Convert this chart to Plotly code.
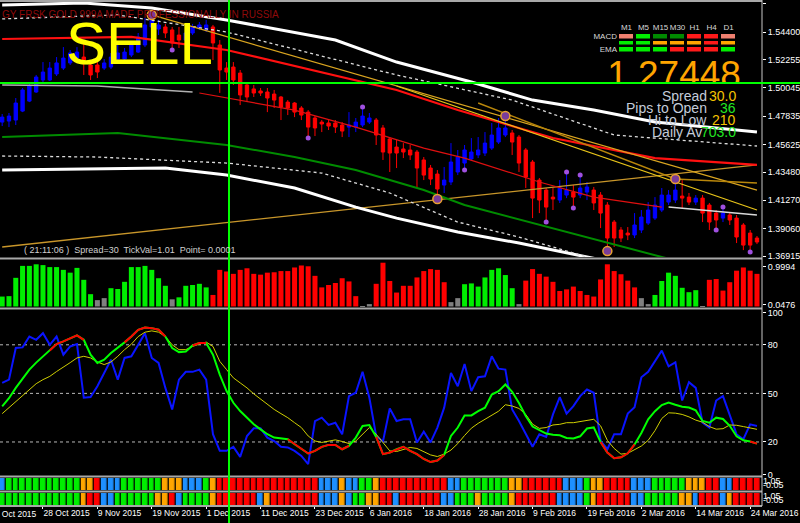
import plotly.graph_objects as go

# one bar per trading day, bar 0 = 20 Oct 2015
date_tick_idx = [6, 14, 22, 30, 38, 46, 54, 62, 70, 78, 86, 94, 102, 110]
date_tick_text = ["28 Oct 2015", "9 Nov 2015", "19 Nov 2015", "1 Dec 2015", "11 Dec 2015",
                  "23 Dec 2015", "6 Jan 2016", "18 Jan 2016", "28 Jan 2016", "9 Feb 2016",
                  "19 Feb 2016", "2 Mar 2016", "14 Mar 2016", "24 Mar 2016"]
first_date_label = "16 Oct 2015"   # half hidden at the left edge

price_ticks = [1.36915, 1.39060, 1.41270, 1.43480, 1.45625, 1.47835, 1.50045, 1.52255, 1.54400, 1.56610]

open_ = [1.4738, 1.4746, 1.4754, 1.4824, 1.4902, 1.4973, 1.5067, 1.5067, 1.5114, 1.5160,
         1.5200, 1.5238, 1.5246, 1.5184, 1.5184, 1.5160, 1.5168, 1.5231, 1.5231, 1.5262,
         1.5285, 1.5340, 1.5481, 1.5465, 1.5481, 1.5458, 1.5418, 1.5379, 1.5434, 1.5473,
         1.5458, 1.5481, 1.5340, 1.5160, 1.5168, 1.5121, 1.5028, 1.4997, 1.4981, 1.4973,
         1.4957, 1.4934, 1.4894, 1.4887, 1.4848, 1.4816, 1.4770, 1.4738, 1.4731, 1.4731,
         1.4715, 1.4699, 1.4699, 1.4715, 1.4738, 1.4754, 1.4692, 1.4606, 1.4543, 1.4528,
         1.4520, 1.4504, 1.4442, 1.4379, 1.4332, 1.4246, 1.4270, 1.4348, 1.4418, 1.4450,
         1.4481, 1.4496, 1.4535, 1.4582, 1.4637, 1.4653, 1.4621, 1.4520, 1.4426, 1.4285,
         1.4207, 1.4152, 1.4129, 1.4168, 1.4191, 1.4168, 1.4191, 1.4207, 1.4168, 1.4090,
         1.3957, 1.3895, 1.3871, 1.3856, 1.3895, 1.3949, 1.3988, 1.4051, 1.4113, 1.4129,
         1.4160, 1.4152, 1.4113, 1.4144, 1.4090, 1.4027, 1.3988, 1.4012, 1.3988, 1.3934,
         1.3871, 1.3832]
high = [1.4801, 1.4809, 1.4926, 1.5004, 1.5036, 1.5106, 1.5207, 1.5207, 1.5246, 1.5324,
        1.5301, 1.5324, 1.5356, 1.5223, 1.5238, 1.5231, 1.5278, 1.5356, 1.5317, 1.5363,
        1.5434, 1.5551, 1.5575, 1.5536, 1.5505, 1.5481, 1.5481, 1.5458, 1.5505, 1.5520,
        1.5536, 1.5497, 1.5379, 1.5207, 1.5207, 1.5145, 1.5051, 1.5028, 1.5004, 1.5004,
        1.4989, 1.4942, 1.4910, 1.4894, 1.4863, 1.4832, 1.4785, 1.4754, 1.4762, 1.4754,
        1.4738, 1.4816, 1.4770, 1.4855, 1.4809, 1.4770, 1.4715, 1.4621, 1.4598, 1.4574,
        1.4559, 1.4520, 1.4465, 1.4403, 1.4363, 1.4387, 1.4574, 1.4520, 1.4559, 1.4613,
        1.4621, 1.4660, 1.4731, 1.4770, 1.4785, 1.4676, 1.4637, 1.4535, 1.4442, 1.4301,
        1.4223, 1.4223, 1.4285, 1.4348, 1.4246, 1.4324, 1.4270, 1.4231, 1.4191, 1.4113,
        1.3973, 1.3918, 1.3918, 1.4027, 1.4051, 1.4113, 1.4152, 1.4223, 1.4207, 1.4293,
        1.4285, 1.4184, 1.4168, 1.4168, 1.4106, 1.4051, 1.4074, 1.4035, 1.4012, 1.3949,
        1.3895, 1.3848]
low = [1.4707, 1.4699, 1.4715, 1.4816, 1.4894, 1.4966, 1.5051, 1.5059, 1.5098, 1.5145,
       1.5184, 1.5223, 1.5106, 1.5067, 1.5082, 1.5145, 1.5153, 1.5215, 1.5215, 1.5246,
       1.5278, 1.5324, 1.5465, 1.5418, 1.5395, 1.5301, 1.5317, 1.5364, 1.5418, 1.5458,
       1.5442, 1.5223, 1.4966, 1.5067, 1.5028, 1.4871, 1.4894, 1.4934, 1.4942, 1.4816,
       1.4848, 1.4754, 1.4793, 1.4777, 1.4754, 1.4613, 1.4629, 1.4660, 1.4676, 1.4653,
       1.4621, 1.4621, 1.4660, 1.4699, 1.4723, 1.4559, 1.4442, 1.4348, 1.4379, 1.4457,
       1.4442, 1.4223, 1.4285, 1.4246, 1.4137, 1.4184, 1.4246, 1.4324, 1.4363, 1.4434,
       1.4457, 1.4473, 1.4520, 1.4567, 1.4621, 1.4481, 1.4348, 1.4223, 1.3988, 1.4027,
       1.3957, 1.4051, 1.4106, 1.4144, 1.4066, 1.4144, 1.4129, 1.4051, 1.3910, 1.3730,
       1.3762, 1.3801, 1.3816, 1.3832, 1.3871, 1.3934, 1.3973, 1.4035, 1.4090, 1.4106,
       1.4066, 1.4090, 1.4090, 1.3957, 1.3895, 1.3895, 1.3957, 1.3934, 1.3793, 1.3738,
       1.3723, 1.3785]
close = [1.4777, 1.4785, 1.4887, 1.4989, 1.5020, 1.5090, 1.5129, 1.5160, 1.5200, 1.5238,
         1.5278, 1.5285, 1.5223, 1.5106, 1.5129, 1.5200, 1.5246, 1.5278, 1.5285, 1.5340,
         1.5403, 1.5497, 1.5536, 1.5497, 1.5434, 1.5356, 1.5379, 1.5434, 1.5481, 1.5497,
         1.5497, 1.5356, 1.5145, 1.5129, 1.5067, 1.4950, 1.4934, 1.4965, 1.4965, 1.4926,
         1.4910, 1.4855, 1.4848, 1.4816, 1.4793, 1.4699, 1.4692, 1.4723, 1.4707, 1.4699,
         1.4668, 1.4715, 1.4738, 1.4785, 1.4770, 1.4637, 1.4504, 1.4496, 1.4496, 1.4504,
         1.4481, 1.4379, 1.4324, 1.4293, 1.4215, 1.4285, 1.4426, 1.4465, 1.4520, 1.4504,
         1.4520, 1.4574, 1.4637, 1.4692, 1.4692, 1.4582, 1.4418, 1.4309, 1.4144, 1.4129,
         1.4074, 1.4137, 1.4223, 1.4207, 1.4152, 1.4223, 1.4231, 1.4106, 1.4027, 1.3832,
         1.3832, 1.3832, 1.3856, 1.3934, 1.3996, 1.4051, 1.4090, 1.4168, 1.4168, 1.4207,
         1.4144, 1.4113, 1.4144, 1.4027, 1.3957, 1.3973, 1.4027, 1.3973, 1.3840, 1.3777,
         1.3777, 1.3801]
bars = list(range(len(close)))

# envelope / channel / MA lines (bar index, price) vertices
upper_band_x = [0, 12, 22, 33, 49, 58, 69, 78, 87, 96, 111]
upper_band_y = [1.5653, 1.5669, 1.5630, 1.5536, 1.5379, 1.5207, 1.5051, 1.4910, 1.4832, 1.4739, 1.4660]
upper_dash_x = [0, 17, 33, 58, 75, 90, 111]
upper_dash_y = [1.5544, 1.5575, 1.5442, 1.5106, 1.4910, 1.4637, 1.4551]
red_ma_x = [0, 19, 33, 58, 67, 81, 96, 111]
red_ma_y = [1.5387, 1.5403, 1.5301, 1.4989, 1.4832, 1.4614, 1.4457, 1.4403]
green_ma_x = [0, 17, 33, 43, 52, 62, 68, 81, 97, 111]
green_ma_y = [1.4621, 1.4653, 1.4559, 1.4465, 1.4363, 1.4207, 1.4090, 1.3910, 1.3684, 1.3504]
lower_dash_x = [0, 14, 33, 47, 57, 67, 76, 86, 111]
lower_dash_y = [1.4473, 1.4465, 1.4418, 1.4340, 1.4184, 1.3957, 1.3840, 1.3684, 1.3348]
lower_band_x = [0, 24, 33, 43, 52, 58, 67, 76, 86, 111]
lower_band_y = [1.4363, 1.4379, 1.4324, 1.4223, 1.4074, 1.3988, 1.3879, 1.3793, 1.3684, 1.3426]
chan_grey_x = [0, 14, 28]
chan_grey_y = [1.5028, 1.5020, 1.4973]
chan_red_x = [29, 33, 43, 52, 62, 68, 79, 87, 97]
chan_red_y = [1.4965, 1.4926, 1.4832, 1.4699, 1.4535, 1.4457, 1.4270, 1.4152, 1.4074]
chan_white_x = [98, 111]
chan_white_y = [1.4074, 1.4012]
trend_a_x = [58, 111]
trend_a_y = [1.5020, 1.4051]
trend_b_x = [22, 111]
trend_b_y = [1.5575, 1.4207]
trend_c_x = [70, 99, 111]
trend_c_y = [1.4887, 1.4293, 1.4262]
trend_d_x = [0, 111]
trend_d_y = [1.3762, 1.4403]

fractal_high_idx = [53, 83, 85, 106]
fractal_low_idx = [25, 45, 68, 80, 84, 105, 110]
ring_high_idx = [22, 74, 99]
ring_low_idx = [64, 89]

hist = [0.25, 0.26, 0.72, 1.02, 1.02, 1.06, 1.04, 0.99, 0.99, 0.92,
        0.85, 0.97, 0.67, 0.31, 0.16, 0.21, 0.46, 0.44, 0.62, 0.99,
        0.99, 1.02, 0.92, 0.71, 0.52, 0.18, 0.23, 0.52, 0.54, 0.57,
        0.48, 0.29, 0.92, 0.88, 0.82, 0.92, 0.96, 0.82, 0.80, 0.85,
        0.86, 0.89, 0.89, 0.98, 1.03, 1.01, 0.77, 0.48, 0.54, 0.59,
        0.71, 0.63, 0.26, 0.01, 0.06, 0.57, 1.10, 0.64, 0.35, 0.52,
        0.52, 0.73, 0.89, 0.94, 0.92, 0.61, 0.11, 0.21, 0.56, 0.58,
        0.50, 0.73, 0.92, 0.96, 0.79, 0.46, 0.06, 0.65, 0.94, 0.82,
        0.75, 0.62, 0.39, 0.43, 0.50, 0.39, 0.29, 0.25, 0.68, 1.06,
        0.89, 0.81, 0.65, 0.48, 0.21, 0.06, 0.29, 0.64, 0.85, 0.77,
        0.47, 0.36, 0.41, 0.01, 0.67, 0.69, 0.40, 0.61, 0.90, 0.98,
        0.90, 0.82]
hist_state = ("gggggggggggggg" "nn" "ggggggggg" "n" "ggggg" "rrrrrrrrrrrrrrrrrrrrrr" "nn"
              "rrrrrrrrrrr" "nn" "gggggggg" "n" "rrrrrrrrrrrrrrrrr" "nn" "ggggggg" "n" "rrrrrrrr")

osc_blue = [56.5, 58.5, 78.0, 78.4, 85.1, 83.1, 87.2, 80.0, 85.1, 73.9,
            79.0, 80.4, 47.3, 47.7, 54.4, 62.6, 70.8, 58.5, 71.9, 72.9,
            80.0, 87.2, 71.9, 68.8, 53.4, 40.1, 58.5, 63.3, 63.3, 64.7,
            58.5, 24.8, 14.5, 14.5, 17.0, 10.8, 23.7, 28.4, 28.4, 22.7,
            20.6, 17.0, 16.6, 14.5, 11.4, 6.3, 32.9, 35.0, 30.5, 31.9,
            24.8, 48.3, 50.4, 63.3, 47.3, 23.7, 20.3, 40.7, 32.9, 34.0,
            34.0, 19.7, 26.4, 19.7, 28.9, 41.2, 62.6, 54.4, 68.2, 51.4,
            60.0, 60.6, 72.9, 65.3, 64.7, 40.1, 32.9, 25.2, 17.0, 24.8,
            23.1, 37.0, 47.7, 37.5, 42.1, 48.3, 52.4, 50.4, 20.6, 15.5,
            24.8, 24.8, 37.5, 41.5, 60.0, 63.3, 69.8, 76.4, 66.7, 69.2,
            45.6, 56.9, 53.4, 31.9, 28.9, 45.6, 48.3, 37.0, 24.8, 21.7,
            30.9, 29.9]
osc_main = [42.0, 47.0, 53.4, 59.0, 64.7, 69.0, 72.9, 76.5, 80.5, 82.1,
            84.2, 85.8, 83.1, 73.9, 68.8, 70.8, 74.9, 78.0, 81.5, 85.1,
            89.3, 90.7, 90.3, 89.3, 85.1, 78.0, 75.5, 75.9, 79.6, 81.1,
            81.1, 73.9, 61.6, 51.4, 44.2, 39.1, 35.0, 30.9, 27.8, 24.8,
            22.7, 22.3, 21.7, 18.6, 15.5, 12.9, 14.5, 17.0, 18.2, 18.2,
            15.5, 17.6, 22.7, 29.9, 30.5, 23.1, 12.5, 13.5, 15.5, 17.0,
            14.5, 12.5, 9.5, 7.6, 8.5, 12.0, 23.7, 28.9, 36.4, 36.4,
            39.1, 41.2, 49.3, 51.4, 55.5, 51.0, 44.0, 36.0, 29.5, 27.2,
            25.2, 24.4, 24.1, 22.5, 22.1, 23.5, 28.3, 29.0, 20.0, 13.5,
            10.0, 10.5, 13.0, 18.5, 25.5, 34.0, 39.0, 42.8, 44.4, 43.0,
            41.8, 41.3, 39.5, 33.0, 31.9, 35.0, 34.2, 30.0, 23.5, 21.0,
            20.3, 19.0]
osc_main_state = ("ggggggg" "rrrrrr" "ggggg" "rrrrrrr" "ggg" "rrr" "ggggggggggg" "rrrrrrrrrr"
                  "ggg" "rrrrrrrrrrr" "gggggggggggggggggggggg" "rrrrrr" "gggggggggggggggg" "rr")
osc_signal = [37.5, 41.2, 45.0, 49.0, 52.5, 56.0, 58.5, 60.5, 63.5, 66.5,
              69.0, 71.9, 72.9, 71.9, 69.4, 67.8, 69.4, 72.9, 77.0, 80.4,
              85.1, 87.8, 88.6, 87.8, 85.1, 80.0, 77.0, 77.0, 79.0, 80.4,
              81.7, 79.0, 69.8, 64.7, 59.6, 56.5, 53.4, 49.7, 46.3, 43.2,
              40.1, 37.5, 35.0, 31.9, 28.9, 23.7, 20.6, 19.7, 20.6, 21.3,
              20.3, 19.0, 20.6, 24.8, 28.9, 24.8, 19.7, 14.5, 14.1, 15.5,
              16.6, 16.0, 14.0, 12.0, 11.0, 12.5, 15.0, 19.0, 24.0, 28.5,
              31.5, 34.0, 37.0, 39.0, 43.0, 42.2, 40.7, 37.0, 31.0, 28.4,
              28.9, 30.5, 30.9, 31.9, 31.9, 32.5, 33.2, 34.0, 30.0, 21.0,
              16.0, 12.5, 13.0, 15.0, 17.5, 21.0, 27.0, 34.5, 38.0, 37.8,
              37.0, 35.5, 33.5, 32.2, 29.5, 27.9, 28.2, 30.5, 30.3, 29.5,
              28.6, 27.8]
osc_levels = [20, 50, 80]

strip1 = ("b" "ggggggggggg" "oo" "r" "bbb" "gggggg" "ooo" "bbb" "g" "o" "rrrrrrrrrrrrrrr" "bbb"
          "o" "bb" "gg" "o" "rrrrrrrrrr" "bb" "ggggggg" "oo" "rrrrrr" "bbb" "g" "oo" "rrrr"
          "bbb" "ggggg" "ooo" "rr" "bb" "rrrr")
strip2 = ("gggggggggggg" "o" "rr" "bb" "gggggg" "oo" "r" "b" "gggg" "o" "rrrrrr" "b" "o"
          "rrrrrrr" "bbb" "o" "b" "gg" "oo" "rr" "b" "rrrrrr" "bb" "ggg" "o" "gggg" "o"
          "rrrrrr" "bbbb" "g" "o" "rrrrr" "bb" "ggggg" "oo" "b" "rrr" "b" "o" "rrrr")

tf_names = ["M1", "M5", "M15", "M30", "H1", "H4", "D1"]
tf_rows = ["MACD", "STR", "EMA"]
tf_state = [["salmon", "lime", "green", "green", "red", "red", "salmon"],
            ["lime", "lime", "orange", "orange", "orange", "red", "orange"],
            ["lime", "lime", "lime", "red", "red", "red", "lime"]]

big_price = "1.27448"
info_rows = [("Spread", "30.0", "#F5C400"), ("Pips to Open", "36", "#22E622"),
             ("Hi to Low", "210", "#F5C400"), ("Daily Av", "703.0", "#22E622")]

FONT = "Liberation Sans"
W, H = 800, 523
XR = 762 / W  # right end of the plotting area


def py(px):
    return 1 - px / H


fig = go.Figure()


def add_line(xs, ys, color, width, dash=None, yaxis="y"):
    fig.add_trace(go.Scatter(x=xs, y=ys, mode="lines", yaxis=yaxis, hoverinfo="skip",
                             line=dict(color=color, width=width, dash=dash)))


# ---- price window
add_line(trend_d_x, trend_d_y, "#C8962A", 1.3)
add_line(lower_band_x, lower_band_y, "white", 3)
add_line(lower_dash_x, lower_dash_y, "#DDDDDD", 1.3, "3px,3px")
add_line(green_ma_x, green_ma_y, "#008C00", 2)
add_line(upper_band_x, upper_band_y, "white", 3)
add_line(upper_dash_x, upper_dash_y, "#DDDDDD", 1.3, "3px,3px")
add_line(red_ma_x, red_ma_y, "#FF1010", 2.2)
add_line(chan_grey_x, chan_grey_y, "#B0B0B0", 1.5)
add_line(chan_red_x, chan_red_y, "#E01010", 1.2)
add_line(chan_white_x, chan_white_y, "#D8D8D8", 1.5)
add_line(trend_b_x, trend_b_y, "#DAA520", 1.2)
add_line(trend_a_x, trend_a_y, "#E8C419", 1.2)
add_line(trend_c_x, trend_c_y, "#B8860B", 1.5)

fig.add_trace(go.Candlestick(
    x=bars, open=open_, high=high, low=low, close=close, yaxis="y", hoverinfo="skip",
    whiskerwidth=0,
    increasing=dict(line=dict(color="#0000FF", width=1), fillcolor="#0000FF"),
    decreasing=dict(line=dict(color="#FF0000", width=1), fillcolor="#FF0000")))

fig.add_trace(go.Scatter(
    x=fractal_high_idx + fractal_low_idx,
    y=[high[i] for i in fractal_high_idx] + [low[i] for i in fractal_low_idx],
    mode="markers", yaxis="y", hoverinfo="skip",
    marker=dict(color="#A050E0", size=5)))
fig.add_trace(go.Scatter(
    x=ring_high_idx + ring_low_idx,
    y=[high[i] for i in ring_high_idx] + [low[i] for i in ring_low_idx],
    mode="markers", yaxis="y", hoverinfo="skip",
    marker=dict(color="#7A3C9A", size=9, line=dict(color="#E8A030", width=1.5))))

# ---- histogram window
hist_colors = {"g": "#00EE00", "r": "#FF0000", "n": "#808080"}
fig.add_trace(go.Bar(x=bars, y=hist, yaxis="y2", width=0.74, hoverinfo="skip",
                     marker=dict(color=[hist_colors[c] for c in hist_state], line=dict(width=0))))

# ---- oscillator window
add_line(bars, osc_blue, "#0A14FF", 2, yaxis="y3")
add_line(bars, osc_signal, "#CFCF00", 1, yaxis="y3")
add_line(bars, osc_main, "#00FF00", 2, yaxis="y3")
add_line(bars, [v if s == "r" else None for v, s in zip(osc_main, osc_main_state)],
         "#FF0000", 2, yaxis="y3")

# ---- colour strips
strip_code = {"b": 0, "g": 1, "o": 2, "r": 3}
strip_scale = [[0, "#1E90FF"], [0.25, "#1E90FF"], [0.25, "#00EE00"], [0.5, "#00EE00"],
               [0.5, "#FFA500"], [0.75, "#FFA500"], [0.75, "#FF0000"], [1, "#FF0000"]]
for row, ax in [(strip1, "y4"), (strip2, "y5")]:
    fig.add_trace(go.Heatmap(x=bars, y=[0], z=[[strip_code[c] for c in row]], yaxis=ax,
                             colorscale=strip_scale, zmin=-0.5, zmax=3.5, showscale=False,
                             xgap=1.3, hoverinfo="skip"))

# ---- timeframe matrix (top right)
tf_code = {"lime": 0, "green": 1, "salmon": 2, "red": 3, "orange": 4}
tf_scale = [[0, "#00EE00"], [0.2, "#00EE00"], [0.2, "#008A00"], [0.4, "#008A00"],
            [0.4, "#F08070"], [0.6, "#F08070"], [0.6, "#FF1A1A"], [0.8, "#FF1A1A"],
            [0.8, "#FFA500"], [1, "#FFA500"]]
fig.add_trace(go.Heatmap(x=tf_names, y=tf_rows, z=[[tf_code[c] for c in r] for r in tf_state],
                         xaxis="x6", yaxis="y6", colorscale=tf_scale, zmin=-0.5, zmax=4.5,
                         showscale=False, xgap=3, ygap=2.5, hoverinfo="skip"))

# big current price, clipped by the window edge like in the terminal
fig.add_trace(go.Scatter(x=[0.045], y=[0.06], mode="text", text=[big_price],
                         textposition="middle right", cliponaxis=True, xaxis="x7", yaxis="y7",
                         textfont=dict(family=FONT, size=37, color="#FFA500"), hoverinfo="skip"))

tickfont = dict(family=FONT, size=9, color="white")
yax = dict(side="right", anchor="x", showgrid=False, zeroline=False, ticks="outside",
           ticklen=3, tickcolor="white", tickfont=tickfont, showline=False, automargin=False)

fig.update_layout(
    width=W, height=H, margin=dict(l=0, r=0, t=0, b=0, pad=0, autoexpand=False),
    paper_bgcolor="black", plot_bgcolor="rgba(0,0,0,0)", showlegend=False,
    xaxis=dict(domain=[0, XR], range=[-0.32, 111.74], anchor="y5", showgrid=False,
               zeroline=False, rangeslider=dict(visible=False), tickvals=date_tick_idx,
               ticktext=date_tick_text, ticklabelposition="outside right", ticks="outside",
               ticklen=3, tickcolor="white", tickangle=0, automargin=False,
               tickfont=dict(family=FONT, size=8.5, color="white")),
    yaxis=dict(yax, domain=[py(257), py(1)], range=[1.3684, 1.5684], tickvals=price_ticks,
               ticktext=["%.5f" % v for v in price_ticks]),
    yaxis2=dict(yax, domain=[py(307), py(260)], range=[-0.0126, 1.168],
                tickvals=[0.9994, 0.0476], ticktext=["0.9994", "0.0476"]),
    yaxis3=dict(yax, domain=[py(475), py(310)], range=[-0.4, 101.5],
                tickvals=[0, 20, 50, 80, 100]),
    yaxis4=dict(yax, domain=[py(490), py(478)], range=[-0.5, 0.5],
                tickvals=[0.3, -0.05], ticktext=["1.05", "-0.05"], ticks=""),
    yaxis5=dict(yax, domain=[py(505), py(493)], range=[-0.5, 0.5],
                tickvals=[0.3, -0.05], ticktext=["1.05", "-0.05"], ticks=""),
    xaxis6=dict(domain=[618 / W, 737 / W], anchor="y6", side="top", showgrid=False,
                zeroline=False, ticks="", tickangle=0, automargin=False,
                tickfont=dict(family=FONT, size=8, color="#D8D8D8")),
    yaxis6=dict(domain=[py(53), py(33)], anchor="x6", autorange="reversed", showgrid=False,
                zeroline=False, ticks="", automargin=False,
                tickfont=dict(family=FONT, size=8, color="#D8D8D8")),
    xaxis7=dict(domain=[600 / W, 760 / W], anchor="y7", range=[0, 1], visible=False),
    yaxis7=dict(domain=[py(83), 1], anchor="x7", range=[0, 1], visible=False),
)

for lvl in osc_levels:
    fig.add_shape(type="line", xref="x domain", x0=0, x1=1, yref="y3", y0=lvl, y1=lvl,
                  layer="below", line=dict(color="#B8B8B8", width=1, dash="3px,3px"))

# window separators and right scale line
for px in [1, 258.5, 308.5, 476.5, 491.5, 506]:
    fig.add_shape(type="line", xref="paper", yref="paper", x0=0, x1=XR, y0=py(px), y1=py(px),
                  line=dict(color="#A8A8A8", width=2))
fig.add_shape(type="line", xref="paper", yref="paper", x0=XR, x1=XR, y0=py(506), y1=1,
              line=dict(color="#C8C8C8", width=1))

# crosshair
fig.add_shape(type="line", xref="paper", yref="paper", x0=229 / W, x1=229 / W, y0=0, y1=1,
              line=dict(color="#00FF00", width=2))
fig.add_shape(type="line", xref="paper", yref="paper", x0=0, x1=1, y0=py(83), y1=py(83),
              line=dict(color="#00FF00", width=2))

fig.add_annotation(text="GY FRSK GOLD 999A MADE PROFESSIONALLY IN RUSSIA", xref="paper",
                   yref="paper", x=0, y=py(15), xanchor="left", yanchor="middle",
                   showarrow=False, font=dict(family=FONT, size=10, color="#8E0A0A"))
fig.add_annotation(text="SELL", xref="paper", yref="paper", x=64 / W, y=py(43),
                   xanchor="left", yanchor="middle", showarrow=False,
                   font=dict(family=FONT, size=60, color="#FFFF00"))
fig.add_annotation(text="( 21:11:06 )  Spread=30  TickVal=1.01  Point= 0.0001", xref="paper",
                   yref="paper", x=22 / W, y=py(250), xanchor="left", yanchor="middle",
                   showarrow=False, font=dict(family=FONT, size=9, color="#D0D0D0"))
fig.add_annotation(text=first_date_label, xref="paper", yref="paper", x=-12 / W, y=py(514),
                   xanchor="left", yanchor="middle", showarrow=False,
                   font=dict(family=FONT, size=8.5, color="white"))

for k, (label, value, color) in enumerate(info_rows):
    ypx = 96 + k * 12
    fig.add_annotation(text=label, xref="paper", yref="paper", x=(709 if k < 3 else 704) / W,
                       y=py(ypx), xanchor="right", yanchor="middle", showarrow=False,
                       font=dict(family=FONT, size=14, color="#C4CCDA"))
    fig.add_annotation(text=value, xref="paper", yref="paper", x=738 / W, y=py(ypx),
                       xanchor="right", yanchor="middle", showarrow=False,
                       font=dict(family=FONT, size=14, color=color))

# page without the default body margin so the chart fills the window
fig.write_html("out.html", config={"displayModeBar": False},
               post_script="document.body.style.margin='0';document.body.style.background='black';")
